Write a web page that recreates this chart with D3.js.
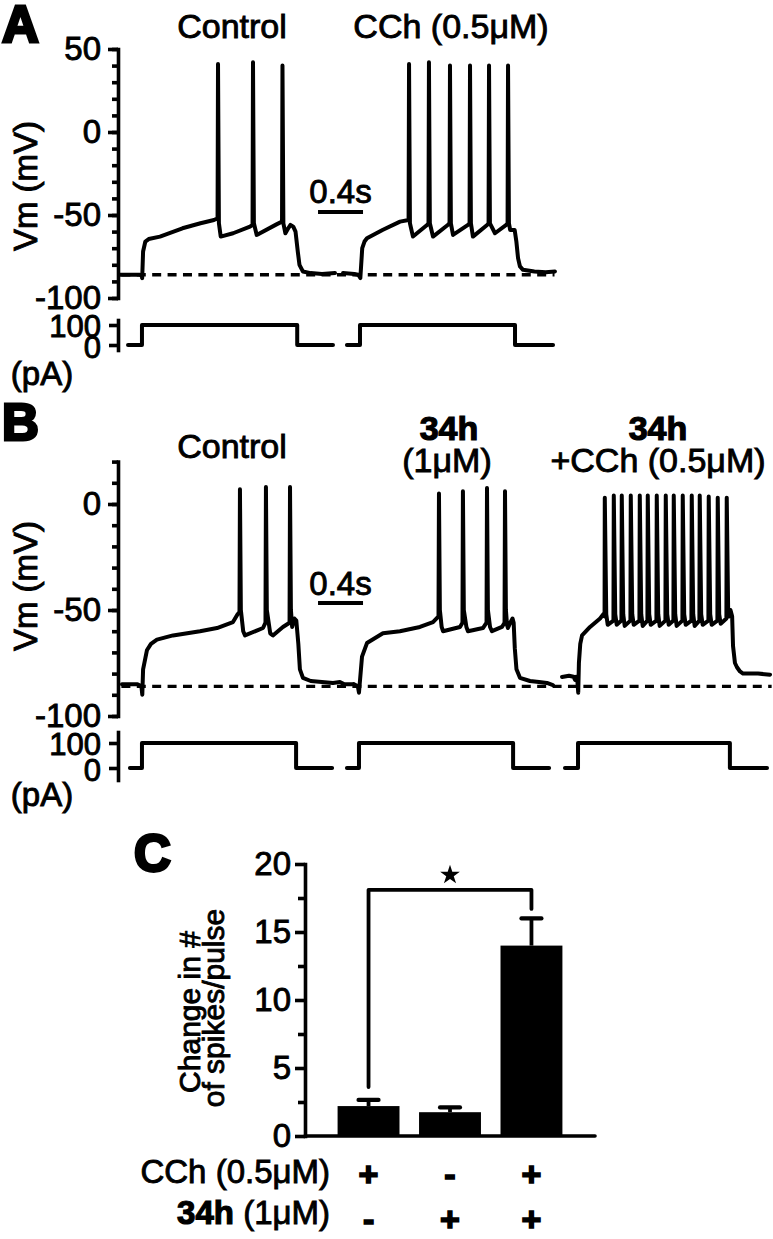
<!DOCTYPE html>
<html><head><meta charset="utf-8">
<script src="https://cdn.jsdelivr.net/npm/d3@7"></script>
<style>
html,body{margin:0;padding:0;background:#fff;}
svg{display:block;}
</style></head><body>
<svg id="c" width="773" height="1239"></svg>
<script>
// ================= DATA =================
// Vm traces: [time from pulse onset (s), Vm (mV)]
const vmA_control = [[-0.196,-86],[-0.02,-86],[-0.005,-86.5],[0.002,-88],[0.01,-72],[0.03,-66],[0.06,-64.5],[0.16,-63],[0.36,-58],[0.52,-55],[0.64,-53],[0.672,-52],
 [0.676,41],[0.684,-55],[0.70,-63],[0.81,-61],[0.96,-57],[0.983,-56],
 [0.987,42],[0.995,-55],[1.02,-62],[1.2,-55.5],[1.245,-54],
 [1.249,40],[1.257,-55],[1.275,-61],[1.3,-58],[1.32,-56],[1.345,-57],[1.365,-60],[1.385,-72],[1.40,-80],[1.43,-84],[1.5,-85],[1.6,-85.5],[1.716,-85]];
const vmA_cch = [[-0.151,-85],[-0.05,-85.5],[-0.018,-86],[-0.005,-87],[0.003,-88],[0.02,-70],[0.04,-66],[0.062,-64],[0.2,-59],[0.356,-54],[0.432,-53],
 [0.436,41],[0.444,-55],[0.471,-63],[0.596,-56],[0.609,-55],
 [0.613,42],[0.621,-55],[0.649,-63],[0.78,-56],[0.796,-55],
 [0.8,40],[0.808,-55],[0.827,-62],[0.96,-56],[0.974,-55],
 [0.978,40],[0.986,-55],[1.004,-63],[1.13,-56],[1.143,-55],
 [1.147,40],[1.155,-55],[1.2,-61],[1.3,-56],[1.312,-55],
 [1.316,40],[1.324,-55],[1.335,-59],[1.375,-59],[1.39,-66],[1.405,-76],[1.422,-81],[1.449,-83],[1.55,-84],[1.65,-84.5],[1.733,-84]];
const vmB_control = [[-0.178,-85],[-0.04,-85],[-0.005,-86],[0.003,-90],[0.01,-78],[0.044,-69],[0.08,-66],[0.133,-64],[0.276,-62],[0.516,-60],[0.667,-58.5],[0.809,-55.7],[0.85,-52],[0.867,-51],
 [0.871,7],[0.879,-50],[0.9,-60],[0.916,-62],[1.076,-58.5],[1.098,-56],
 [1.102,8],[1.11,-50],[1.14,-61],[1.164,-62],[1.253,-58],[1.312,-56],
 [1.316,8],[1.324,-50],[1.335,-58],[1.355,-54],[1.372,-55],[1.39,-66],[1.404,-78],[1.431,-82],[1.5,-83.5],[1.698,-84.4],[1.76,-84],[1.8,-85],[1.876,-85]];
const vmB_34h = [[-0.044,-85],[-0.01,-86],[0.0,-89],[0.027,-72],[0.071,-65.6],[0.213,-61],[0.364,-60],[0.542,-58],[0.658,-55.7],[0.707,-53],
 [0.711,5],[0.719,-50],[0.735,-58],[0.747,-60],[0.898,-58],[0.92,-56],
 [0.924,6],[0.932,-50],[0.955,-58],[0.969,-60],[1.102,-58.5],[1.134,-56],
 [1.138,7.5],[1.146,-50],[1.165,-58],[1.182,-60],[1.271,-58],[1.294,-56],
 [1.298,6],[1.306,-50],[1.316,-57],[1.324,-58.5],[1.345,-56],[1.365,-54],[1.375,-56],[1.385,-68],[1.4,-78],[1.431,-82],[1.52,-83.5],[1.6,-84],[1.671,-84.4],[1.724,-85.4]];
const vmB_34hCch = [[-0.142,-81.6],[-0.08,-81],[-0.04,-81.5],[-0.025,-83],[-0.015,-81.5],[-0.005,-84],[0.002,-89],[0.008,-75],[0.02,-66],[0.036,-62],[0.107,-58],[0.196,-54],[0.225,-52],[0.236,-53],
 [0.238,3],[0.251,-52],[0.264,-57],[0.315,-55],
 [0.318,4],[0.331,-52],[0.344,-57],[0.386,-55],
 [0.389,4],[0.402,-52],[0.415,-57.5],[0.466,-55],
 [0.469,4],[0.482,-52],[0.495,-57],[0.546,-55],
 [0.549,4],[0.562,-52],[0.575,-57.5],[0.617,-55],
 [0.620,4],[0.633,-52],[0.646,-57],[0.697,-55],
 [0.700,4],[0.713,-52],[0.726,-57.5],[0.777,-55],
 [0.780,4],[0.793,-52],[0.806,-57],[0.848,-55],
 [0.851,4],[0.864,-52],[0.877,-57.5],[0.928,-55],
 [0.931,4],[0.944,-52],[0.957,-57],[1.008,-55],
 [1.011,4],[1.024,-52],[1.037,-57.5],[1.079,-55],
 [1.082,4],[1.095,-52],[1.108,-57],[1.159,-55],
 [1.162,3.5],[1.175,-52],[1.188,-57],[1.239,-55],
 [1.242,3],[1.255,-52],[1.268,-56.5],[1.319,-54],
 [1.322,3],[1.335,-52],[1.343,-53],[1.355,-50],[1.37,-53],[1.378,-67],[1.395,-75],[1.413,-77],[1.44,-79],[1.467,-80],[1.6,-80],[1.707,-80.5]];
// injected current: [time from pulse onset (s), pA]
const iA_control = [[-0.124,0],[0,0],[0,100],[1.38,100],[1.38,0],[1.698,0]];
const iA_cch     = [[-0.116,0],[0,0],[0,100],[1.378,100],[1.378,0],[1.716,0]];
const iB_control = [[-0.107,0],[0,0],[0,100],[1.37,100],[1.37,0],[1.69,0]];
const iB_34h     = [[-0.107,0],[0,0],[0,100],[1.37,100],[1.37,0],[1.69,0]];
const iB_34hCch  = [[-0.116,0],[0,0],[0,100],[1.35,100],[1.35,0],[1.68,0]];
const restingVm = -86;
const vmTicksA = [50, 0, -50, -100];
const vmTicksB = [0, -50, -100];
const currentTicks = [0, 100];
const titlesA = ["Control", "CCh (0.5μM)"];
const scaleBarSec = 0.4;
// Panel C
const conditions = ["CCh", "34h", "34h+CCh"];
const cchSigns = ["+", "-", "+"];
const h34Signs = ["-", "+", "+"];
const meanChange = [2.2, 1.75, 14.0];
const semChange = [0.45, 0.35, 2.0];
const yTicksC = [0, 5, 10, 15, 20];

// ================= LAYOUT =================
const FONT = '"Liberation Sans", Arial, Helvetica, sans-serif';
const svg = d3.select("#c");
const tScale = d3.scaleLinear().domain([0, 5.82]).range([118, 118 + 5.82 * 112.5]);
const LW = 4;
const TSW = 0.9;

function txt(x, y, s, opt = {}) {
  const t = svg.append("text").attr("x", x).attr("y", y).text(s)
    .attr("font-family", FONT).attr("font-size", opt.size || 33)
    .attr("font-weight", opt.bold ? "bold" : "normal")
    .attr("text-anchor", opt.anchor || "middle")
    .attr("fill", "#000").attr("stroke", "#000").attr("stroke-width", opt.sw != null ? opt.sw : TSW);
  if (opt.rotate) t.attr("transform", `rotate(${opt.rotate},${x},${y})`);
  return t;
}
function styleAxis(g, size) {
  g.attr("font-family", FONT).attr("font-size", size || 33);
  g.select(".domain").attr("stroke-width", 3.6).attr("stroke-linecap", "square");
  g.selectAll(".tick line").attr("stroke-width", 3.6);
  g.selectAll(".tick text").attr("fill", "#000").attr("stroke", "#000").attr("stroke-width", TSW);
}
function drawTrace(data, onset, yScale) {
  const line = d3.line().x(d => tScale(onset + d[0])).y(d => yScale(d[1]));
  svg.append("path").attr("d", line(data)).attr("fill", "none").attr("stroke", "#000")
    .attr("stroke-width", LW).attr("stroke-linejoin", "round").attr("stroke-linecap", "round");
}
const fmt = d => String(d);
function vmAxis(yScale, majors, minorRange) {
  const g = svg.append("g").attr("transform", "translate(118,0)");
  g.call(d3.axisLeft(yScale).tickValues(d3.range(minorRange[0], minorRange[1] + 1, 10)).tickSize(6).tickSizeOuter(0).tickFormat(""));
  styleAxis(g);
  const g2 = svg.append("g").attr("transform", "translate(118,0)");
  g2.call(d3.axisLeft(yScale).tickValues(majors).tickSize(10).tickSizeOuter(0).tickPadding(7).tickFormat(fmt));
  styleAxis(g2);
  g2.select(".domain").remove();
}
function currentAxis(iScale, shifts) {
  const g = svg.append("g").attr("transform", "translate(118,0)");
  g.call(d3.axisLeft(iScale).tickValues(currentTicks).tickSize(9).tickSizeOuter(0).tickPadding(8).tickFormat(fmt));
  styleAxis(g, 31);
  g.selectAll(".tick text").attr("y", d => shifts[d]);
}
function scaleBar(t0, yLine, yText) {
  svg.append("line").attr("x1", tScale(t0)).attr("x2", tScale(t0 + scaleBarSec))
    .attr("y1", yLine).attr("y2", yLine).attr("stroke", "#000").attr("stroke-width", 3.8);
  txt(tScale(t0 + scaleBarSec / 2), yText, scaleBarSec + "s");
}
function dashed(y, t0, t1) {
  svg.append("line").attr("x1", tScale(t0)).attr("x2", tScale(t1)).attr("y1", y).attr("y2", y)
    .attr("stroke", "#000").attr("stroke-width", 3.3).attr("stroke-dasharray", "9,6.4");
}

// ---------- Panel A ----------
const yA = d3.scaleLinear().domain([-100, 50]).range([298, 49]);
const iA = d3.scaleLinear().domain([-25, 125]).range([350, 320]);
const onsetA = [0.213, 2.151];
txt(2, 42, "A", { size: 51, bold: true, anchor: "start", sw: 3 });
txt(232, 38, titlesA[0], { size: 34 });
txt(451, 38, titlesA[1], { size: 34 });
vmAxis(yA, vmTicksA, [-100, 50]);
txt(25, 186, "Vm (mV)", { rotate: -90, size: 33 }).attr("dy", "0.35em");
dashed(yA(restingVm), 0.03, 3.88);
drawTrace(vmA_control, onsetA[0], yA);
drawTrace(vmA_cch, onsetA[1], yA);
scaleBar(1.778, 212, 203);
currentAxis(iA, { 0: 3, 100: 2 });
drawTrace(iA_control, onsetA[0], iA);
drawTrace(iA_cch, onsetA[1], iA);
txt(42, 385, "(pA)");

// ---------- Panel B ----------
const yB = d3.scaleLinear().domain([-100, 20]).range([716, 461.6]);
const iB = d3.scaleLinear().domain([-48, 144]).range([780, 732]);
const onsetB = [0.213, 2.142, 4.089];
txt(2, 440, "B", { size: 51, bold: true, anchor: "start", sw: 3 });
txt(232, 458, "Control", { size: 34 });
txt(449, 440, "34h", { size: 34, bold: true, sw: 1.2 });
txt(447, 472, "(1μM)", { size: 34 });
txt(658, 440, "34h", { size: 34, bold: true, sw: 1.2 });
txt(658, 472, "+CCh (0.5μM)", { size: 34 });
vmAxis(yB, vmTicksB, [-100, 20]);
txt(25, 586, "Vm (mV)", { rotate: -90, size: 33 }).attr("dy", "0.35em");
dashed(yB(restingVm), 0.03, 5.81);
drawTrace(vmB_control, onsetB[0], yB);
drawTrace(vmB_34h, onsetB[1], yB);
drawTrace(vmB_34hCch, onsetB[2], yB);
scaleBar(1.778, 603, 595);
currentAxis(iB, { 0: 3, 100: 2 });
drawTrace(iB_control, onsetB[0], iB);
drawTrace(iB_34h, onsetB[1], iB);
drawTrace(iB_34hCch, onsetB[2], iB);
txt(42, 806, "(pA)");

// ---------- Panel C ----------
const xC = d3.scaleBand().domain(conditions).range([305, 595]).paddingInner(0.24).paddingOuter(0.4);
const yC = d3.scaleLinear().domain([0, 20]).range([1136, 864]);
txt(134, 871, "C", { size: 51, bold: true, anchor: "start", sw: 3 });
{
  const g = svg.append("g").attr("transform", "translate(305,0)");
  g.call(d3.axisLeft(yC).tickValues([2.5, 7.5, 12.5, 17.5]).tickSize(7).tickSizeOuter(0).tickFormat(""));
  styleAxis(g);
  const g2 = svg.append("g").attr("transform", "translate(305,0)");
  g2.call(d3.axisLeft(yC).tickValues(yTicksC).tickSize(10).tickSizeOuter(0).tickPadding(4).tickFormat(fmt));
  styleAxis(g2);
  g2.select(".domain").remove();
}
svg.append("line").attr("x1", 305).attr("x2", 595).attr("y1", yC(0)).attr("y2", yC(0))
  .attr("stroke", "#000").attr("stroke-width", 3.6).attr("stroke-linecap", "round");
txt(189, 1012, "Change in #", { rotate: -90, size: 30 }).attr("dy", "0.35em");
txt(213, 1008, "of spikes/pulse", { rotate: -90, size: 30 }).attr("dy", "0.35em");
conditions.forEach((c, i) => {
  const cx = xC(c) + xC.bandwidth() / 2;
  svg.append("rect").attr("x", xC(c)).attr("width", xC.bandwidth())
    .attr("y", yC(meanChange[i])).attr("height", yC(0) - yC(meanChange[i])).attr("fill", "#000");
  svg.append("line").attr("x1", cx).attr("x2", cx).attr("y1", yC(meanChange[i]))
    .attr("y2", yC(meanChange[i] + semChange[i])).attr("stroke", "#000").attr("stroke-width", 3.8);
  svg.append("line").attr("x1", cx - 10).attr("x2", cx + 10).attr("y1", yC(meanChange[i] + semChange[i]))
    .attr("y2", yC(meanChange[i] + semChange[i])).attr("stroke", "#000").attr("stroke-width", 4.2).attr("stroke-linecap", "round");
  txt(cx, 1186, cchSigns[i], { size: 34, bold: true, sw: 1.6 });
  txt(cx, 1231, h34Signs[i], { size: 34, bold: true, sw: 1.6 });
});
// significance bracket
{
  const c1 = xC(conditions[0]) + xC.bandwidth() / 2, c3 = xC(conditions[2]) + xC.bandwidth() / 2;
  svg.append("path").attr("d", `M${c1},${yC(3.6)}V${yC(18.1)}H${c3}V${yC(16.7)}`)
    .attr("fill", "none").attr("stroke", "#000").attr("stroke-width", 3.8)
    .attr("stroke-linejoin", "round").attr("stroke-linecap", "round");
  svg.append("path").attr("d", d3.symbol(d3.symbolStar, 120)())
    .attr("transform", `translate(${(c1 + c3) / 2},875)`).attr("fill", "#000");
}
txt(330, 1183, "CCh (0.5μM)", { anchor: "end", size: 33 });
{
  const t = txt(330, 1224, "", { anchor: "end", size: 33 });
  t.append("tspan").attr("font-weight", "bold").attr("stroke-width", 1.2).text("34h");
  t.append("tspan").text(" (1μM)");
}
</script>
</body></html>
